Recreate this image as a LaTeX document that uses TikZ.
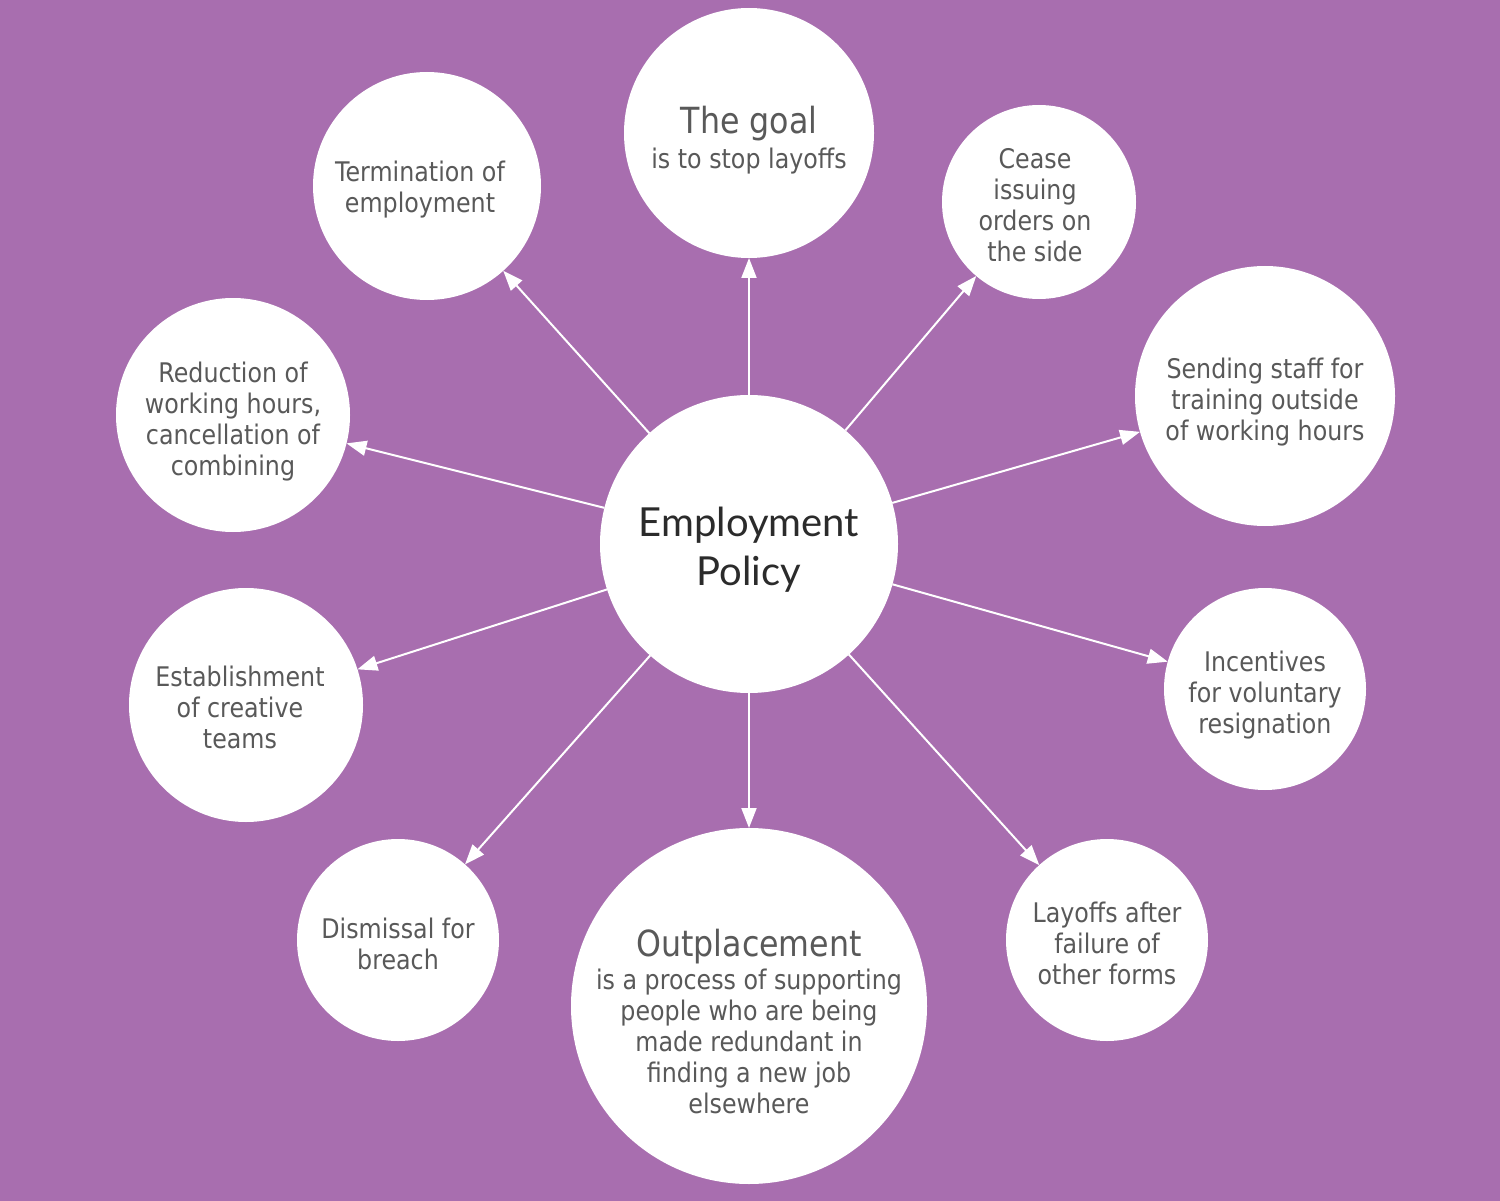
\documentclass[tikz,border=0pt]{standalone}
\usepackage{fontspec}
\setmainfont{DejaVu Sans}[FakeStretch=0.88]
\newfontfamily\latofont{Lato}
\usetikzlibrary{arrows.meta}
\definecolor{bgpurple}{HTML}{A86EAF}
\definecolor{txtgray}{HTML}{595959}
\definecolor{ctxt}{HTML}{2B2B2B}
\newcommand{\bigline}[1]{{\fontsize{36}{40}\selectfont #1}}
\begin{document}
\begin{tikzpicture}[x=1pt,y=-1pt,
  bubble/.style={circle,fill=white,draw=none,inner sep=0pt,outer sep=0pt,minimum size=#1},
  label text/.style={align=center,text=txtgray,inner sep=0pt,font=\fontsize{27}{31}\selectfont},
  link/.style={draw=white,line width=2pt,-{Triangle[length=20pt,width=15pt]}}]
\fill[bgpurple] (0,0) rectangle (1500,1201);
\useasboundingbox (0,0) rectangle (1500,1201);

% circles
\node[bubble=298pt] (c) at (749,544) {};
\node[bubble=250pt] (goal) at (749,133) {};
\node[bubble=228pt] (term) at (427,186) {};
\node[bubble=194pt] (cease) at (1039,202) {};
\node[bubble=260pt] (send) at (1265,396) {};
\node[bubble=202pt] (inc) at (1265,689) {};
\node[bubble=202pt] (lay) at (1107,940) {};
\node[bubble=356pt] (out) at (749,1006) {};
\node[bubble=202pt] (dis) at (398,940) {};
\node[bubble=234pt] (est) at (246,705) {};
\node[bubble=234pt] (red) at (233,415) {};

% texts
\node[label text,text=ctxt,font=\latofont\fontsize{40}{49}\selectfont] (c-t) at ([shift={(0,6)}]c) {Employment\\Policy};
\node[label text] (goal-t) at ([shift={(0,7)}]goal) {\bigline{The goal}\\[4pt]is to stop layoffs};
\node[label text] (term-t) at ([shift={(-7,4)}]term) {Termination of\\employment};
\node[label text] (cease-t) at ([shift={(-4,3.5)}]cease) {Cease\\issuing\\orders on\\the side};
\node[label text] (send-t) at ([shift={(0,6)}]send) {Sending staff for\\training outside\\of working hours};
\node[label text] (inc-t) at ([shift={(0,6)}]inc) {Incentives\\for voluntary\\resignation};
\node[label text] (lay-t) at ([shift={(0,3.5)}]lay) {Layoffs after\\failure of\\other forms};
\node[label text] (out-t) at ([shift={(0,16)}]out) {\bigline{Outplacement}\\[2pt]is a process of supporting\\people who are being\\made redundant in\\finding a new job\\elsewhere};
\node[label text] (dis-t) at ([shift={(0,4)}]dis) {Dismissal for\\breach};
\node[label text] (est-t) at ([shift={(-6,2)}]est) {Establishment\\of creative\\teams};
\node[label text] (red-t) at ([shift={(0,7)}]red) {Reduction of\\working hours,\\cancellation of\\combining};

\foreach \t in {goal,term,cease,send,inc,lay,out,dis,est,red}
  \draw[link] (c) -- (\t);
\end{tikzpicture}
\end{document}
